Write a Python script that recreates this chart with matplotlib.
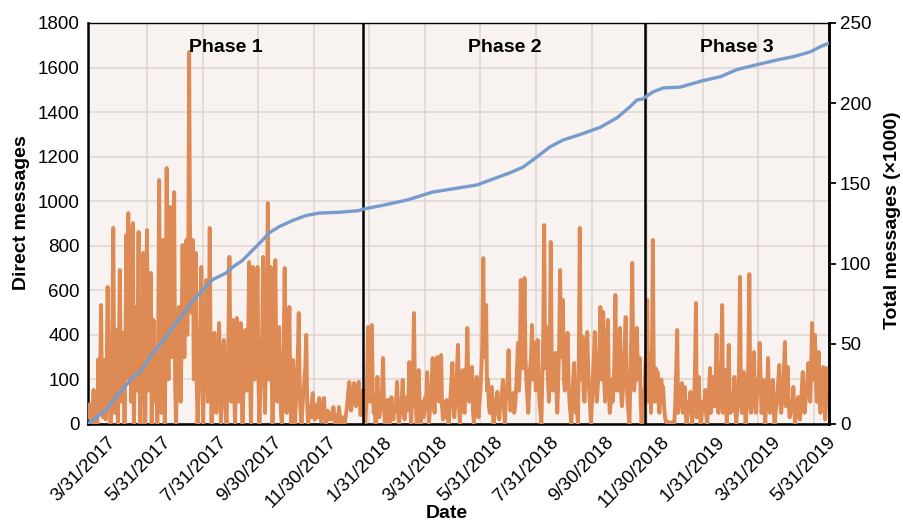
import numpy as np
import matplotlib
matplotlib.use("Agg")
import matplotlib.pyplot as plt
import matplotlib.transforms as mtransforms

plt.rcParams['font.family'] = ['Liberation Sans Narrow', 'Liberation Sans', 'DejaVu Sans']

# ---- data (x = days counted from the left edge of the chart) ----
date_labels = ["3/31/2017", "5/31/2017", "7/31/2017", "9/30/2017", "11/30/2017",
               "1/31/2018", "3/31/2018", "5/31/2018", "7/31/2018", "9/30/2018",
               "11/30/2018", "1/31/2019", "3/31/2019", "5/31/2019"]
left_tick_labels = ["0", "100", "400", "600", "800", "1000", "1200", "1400", "1600", "1800"]
phase_names = ["Phase 1", "Phase 2", "Phase 3"]
phase_edges = [0, 294, 595, 791]

# direct messages per day, one list per phase (first value = first day of the phase)
phase1_dm = [30, 60, 90, 10, 0, 60, 153, 40, 0, 80,
             0, 290, 60, 200, 534, 100, 30, 287, 120, 20,
             250, 615, 300, 150, 0, 60, 400, 880, 200, 50,
             422, 150, 0, 300, 691, 250, 100, 200, 409, 0,
             350, 848, 300, 947, 200, 884, 100, 400, 902, 0,
             250, 525, 150, 350, 862, 200, 0, 300, 150, 768,
             200, 0, 350, 871, 300, 150, 350, 678, 0, 200,
             467, 250, 100, 300, 0, 400, 1095, 300, 50, 350,
             826, 200, 0, 400, 1149, 350, 200, 450, 974, 350,
             300, 500, 1041, 200, 0, 200, 350, 525, 300, 100,
             400, 803, 450, 300, 550, 826, 400, 600, 1670, 800,
             500, 650, 826, 200, 400, 768, 200, 0, 150, 300,
             450, 705, 200, 0, 250, 400, 646, 300, 100, 400,
             880, 250, 0, 200, 300, 409, 200, 50, 250, 300,
             453, 150, 0, 200, 300, 377, 150, 50, 0, 250,
             400, 750, 300, 100, 250, 467, 150, 0, 200, 476,
             250, 100, 300, 453, 150, 0, 150, 250, 422, 300,
             150, 350, 727, 200, 0, 300, 705, 350, 200, 400,
             500, 705, 200, 0, 150, 300, 400, 750, 250, 50,
             300, 500, 992, 200, 400, 705, 250, 0, 200, 400,
             736, 300, 100, 250, 435, 200, 50, 0, 200, 350,
             700, 200, 50, 200, 300, 525, 150, 0, 100, 287,
             100, 0, 100, 200, 300, 498, 150, 50, 0, 80,
             150, 200, 250, 400, 100, 0, 40, 80, 30, 100,
             139, 50, 20, 40, 60, 90, 30, 117, 40, 10,
             50, 80, 117, 30, 0, 30, 60, 40, 20, 30,
             50, 20, 76, 30, 0, 20, 40, 10, 76, 30,
             0, 20, 30, 10, 0, 30, 60, 100, 150, 189,
             100, 60, 120, 150, 184, 120, 80, 130, 160, 189,
             100, 40, 80, 150]
phase2_dm = [150, 20, 0, 80, 200, 435, 200, 100, 250, 444,
             150, 50, 100, 0, 80, 211, 100, 30, 60, 100,
             150, 296, 80, 0, 60, 30, 108, 40, 0, 60,
             120, 50, 20, 80, 60, 100, 189, 50, 0, 40,
             80, 120, 198, 60, 20, 80, 120, 60, 100, 278,
             100, 0, 120, 200, 498, 150, 80, 0, 150, 242,
             100, 0, 60, 100, 30, 50, 120, 80, 233, 100,
             0, 60, 120, 200, 296, 100, 50, 150, 200, 301,
             150, 100, 200, 310, 80, 20, 100, 60, 30, 108,
             40, 0, 60, 120, 200, 274, 100, 30, 80, 150,
             250, 355, 100, 0, 120, 150, 242, 80, 50, 150,
             250, 431, 200, 100, 150, 200, 256, 60, 0, 80,
             150, 211, 60, 30, 100, 150, 250, 350, 745, 300,
             300, 534, 150, 200, 80, 50, 120, 166, 60, 0,
             60, 80, 120, 144, 40, 20, 80, 100, 150, 198,
             80, 0, 100, 150, 200, 332, 150, 60, 100, 80,
             139, 50, 80, 150, 250, 364, 150, 250, 646, 300,
             250, 350, 655, 300, 200, 120, 50, 150, 250, 300,
             444, 200, 250, 364, 150, 250, 377, 200, 100, 50,
             0, 200, 400, 893, 250, 300, 435, 200, 100, 300,
             817, 300, 150, 200, 250, 319, 150, 50, 200, 350,
             691, 300, 400, 557, 200, 150, 250, 300, 409, 200,
             100, 50, 0, 100, 200, 274, 100, 50, 100, 0,
             300, 880, 200, 250, 391, 150, 100, 200, 300, 413,
             250, 150, 80, 0, 100, 200, 300, 413, 200, 100,
             150, 250, 350, 525, 200, 300, 503, 200, 100, 250,
             350, 467, 150, 50, 100, 200, 100, 150, 300, 579,
             250, 150, 200, 300, 431, 150, 80, 150, 250, 350,
             480, 200, 100, 50, 0, 200, 400, 723, 300, 150,
             200, 300, 431, 200, 250, 296, 100, 0, 80, 150,
             100]
phase3_dm = [250, 350, 557, 100, 200, 319, 50, 300, 826, 200,
             100, 250, 150, 233, 100, 50, 120, 200, 150, 166,
             80, 30, 10, 5, 9, 5, 3, 5, 5, 9,
             0, 5, 100, 250, 422, 50, 100, 150, 80, 184,
             50, 100, 166, 60, 0, 50, 100, 80, 144, 60,
             0, 60, 100, 250, 543, 30, 100, 211, 60, 0,
             40, 100, 60, 80, 153, 40, 0, 100, 150, 251,
             50, 100, 211, 120, 80, 200, 400, 150, 50, 100,
             150, 300, 534, 50, 120, 242, 100, 0, 150, 355,
             100, 50, 100, 60, 120, 211, 80, 0, 60, 100,
             250, 660, 100, 50, 120, 233, 100, 0, 60, 100,
             300, 673, 100, 50, 150, 200, 323, 100, 50, 120,
             200, 150, 364, 200, 50, 100, 198, 80, 0, 100,
             150, 296, 100, 50, 150, 100, 198, 60, 0, 50,
             100, 150, 200, 265, 100, 50, 100, 150, 250, 368,
             80, 150, 256, 100, 30, 60, 100, 80, 166, 50,
             0, 80, 60, 121, 40, 20, 100, 150, 233, 100,
             50, 100, 150, 200, 274, 150, 100, 250, 453, 200,
             300, 400, 200, 100, 200, 323, 100, 50, 150, 200,
             256, 150, 20, 100, 251, 150, 200]

# cumulative total messages, thousands (day, total)
total_k = [(0, 0), (19, 8.7), (33, 19), (48, 29), (59, 35), (69, 44), (83, 54), (94, 63),
           (105, 71), (112, 77), (123, 84), (133, 90), (147, 94), (155, 98), (165, 102),
           (176, 108.5), (187, 115), (193, 119), (204, 123), (219, 127), (233, 130),
           (247, 131.5), (268, 132), (289, 133), (294, 134), (312, 136), (341, 139.7),
           (368, 144.6), (415, 149), (450, 156.5), (464, 160), (475, 164.6), (493, 172.7),
           (507, 177), (528, 181), (547, 185), (565, 191), (579, 198), (586, 202),
           (592, 202.6), (603, 207), (614, 209.5), (632, 210), (656, 214), (675, 216.5),
           (693, 221), (714, 224), (736, 227), (753, 229), (771, 232), (781, 235), (791, 237.5)]

ORANGE = '#DE8A54'
BLUE = '#769CCD'

fig = plt.figure(figsize=(9.04, 5.25), dpi=100)
ax = fig.add_axes([0.0973, 0.1924, 0.8197, 0.7638])
ax.set_facecolor('#F8F2F0')

dm_val = phase1_dm + phase2_dm + phase3_dm
dm_day = np.arange(len(dm_val))
ax.plot(dm_day, dm_val, color=ORANGE, lw=2.8, zorder=3)

ax.set_xlim(phase_edges[0], phase_edges[-1])
ax.set_ylim(0, 1800)
ax.set_yticks(np.arange(0, 1801, 200))
ax.set_yticklabels(left_tick_labels)
ax.set_xticks(np.linspace(20, 789, len(date_labels)))
ax.set_xticklabels(date_labels, rotation=45, ha='right', va='top', rotation_mode='anchor')
ax.set_xticks(np.linspace(63, 775, 13), minor=True)
ax.tick_params(axis='both', which='both', length=0, labelsize=13.5)
ax.tick_params(axis='x', pad=7)
ax.tick_params(axis='y', pad=6)
ax.grid(True, axis='y', which='major', color='#E0D4D0', lw=1.1)
ax.grid(True, axis='x', which='minor', color='#E0D4D0', lw=1.1)
ax.grid(False, axis='x', which='major')
ax.set_axisbelow(True)

for side in ['left', 'bottom', 'right']:
    ax.spines[side].set_linewidth(1.8)
ax.spines['top'].set_linewidth(1.0)

tw = ax.twinx()
tw.set_ylim(0, 250)
tw.set_yticks(np.arange(0, 251, 50))
tw.tick_params(axis='y', length=5, width=1.3, labelsize=13.5, pad=3)
tw.spines['right'].set_linewidth(1.8)
for side in ['left', 'bottom', 'top']:
    tw.spines[side].set_visible(False)

for edge in phase_edges[1:-1]:
    tw.axvline(edge, color='black', lw=1.8, zorder=2)

t_day, t_val = zip(*total_k)
tw.plot(t_day, t_val, color=BLUE, lw=2.4, zorder=4)

trans = mtransforms.blended_transform_factory(ax.transData, ax.transAxes)
for name, a, b in zip(phase_names, phase_edges[:-1], phase_edges[1:]):
    ax.text((a + b) / 2, 0.938, name, transform=trans, ha='center', va='center',
            fontsize=14, fontweight='bold', zorder=5)

fig.text(22 / 904, 1 - 213 / 525, 'Direct messages', rotation=90, ha='center', va='center',
         fontsize=14, fontweight='bold')
fig.text(893 / 904, 1 - 220 / 525, 'Total messages (\u00d71000)', rotation=90, ha='center',
         va='center', fontsize=14, fontweight='bold')
fig.text(447 / 904, 1 - 514 / 525, 'Date', ha='center', va='center', fontsize=14,
         fontweight='bold')

fig.savefig('out.png', dpi=100)
